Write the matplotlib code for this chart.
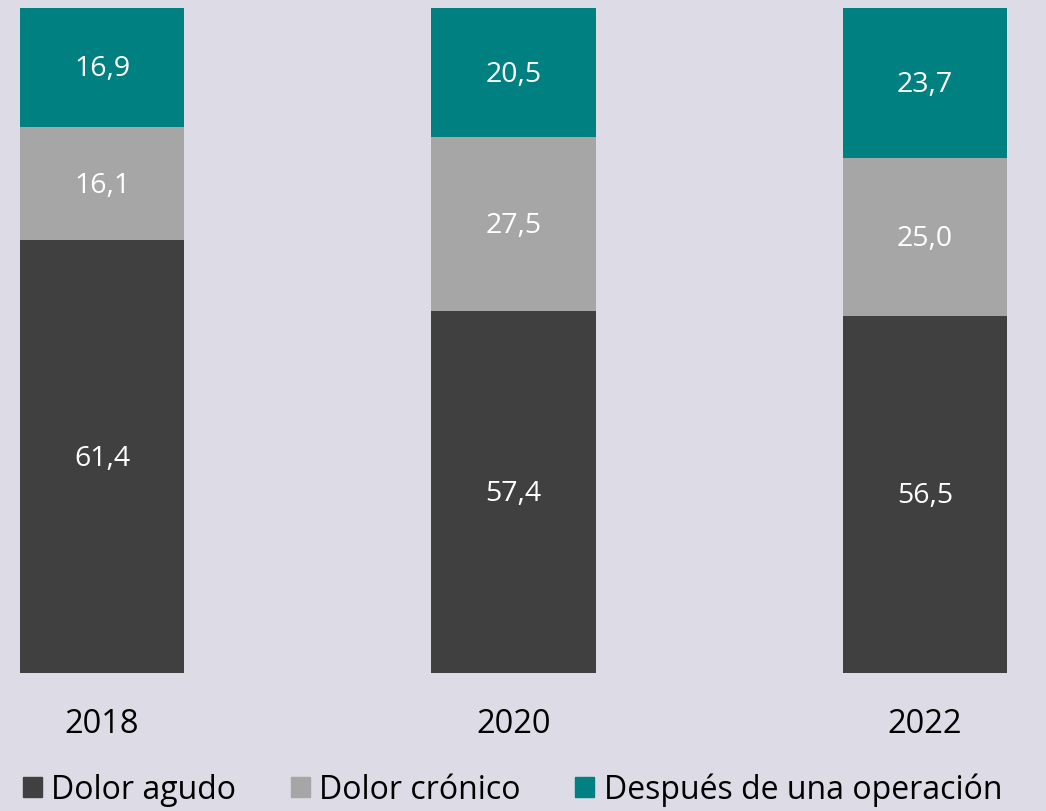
import numpy as np
import matplotlib.pyplot as plt
from matplotlib.patches import Patch

plt.rcParams['font.family'] = ['Open Sans', 'DejaVu Sans']

years = ['2018', '2020', '2022']
series = ['Dolor agudo', 'Dolor crónico', 'Después de una operación']
agudo = [61.4, 57.4, 56.5]
cronico = [16.1, 27.5, 25.0]
operacion = [16.9, 20.5, 23.7]
colors = ['#404040', '#A6A6A6', '#008080']
bg = '#DDDBE6'

values = np.array([agudo, cronico, operacion])
totals = values.sum(axis=0)
shares = values / totals * 100  # stacked to 100 %

fig = plt.figure(figsize=(10.46, 8.11), dpi=100, facecolor=bg)
ax = fig.add_axes([0, 0.1702, 1, 0.82])
ax.set_facecolor(bg)

x = np.arange(len(years))
bottom = np.zeros(len(years))
for i in range(len(series)):
    ax.bar(x, shares[i], bottom=bottom, width=0.4, color=colors[i])
    for j in range(len(years)):
        ax.text(x[j], bottom[j] + shares[i][j] / 2 - 0.3, f"{values[i][j]:.1f}".replace('.', ','),
                ha='center', va='center', color='white', fontsize=20.5)
    bottom += shares[i]

ax.set_xlim(-0.248, 2.294)
ax.set_ylim(0, 100)
ax.set_xticks(x)
ax.set_xticklabels(years, fontsize=23.5)
ax.tick_params(axis='x', length=0, pad=25)
ax.set_yticks([])
for s in ax.spines.values():
    s.set_visible(False)

handles = [Patch(color=c) for c in colors]
fig.legend(handles, series, loc='lower center', bbox_to_anchor=(0.49, -0.03), ncol=3,
           frameon=False, fontsize=23, handlelength=0.6, handleheight=0.6,
           handletextpad=0.3, columnspacing=1.7)

fig.savefig('out.png', dpi=100, facecolor=bg)
